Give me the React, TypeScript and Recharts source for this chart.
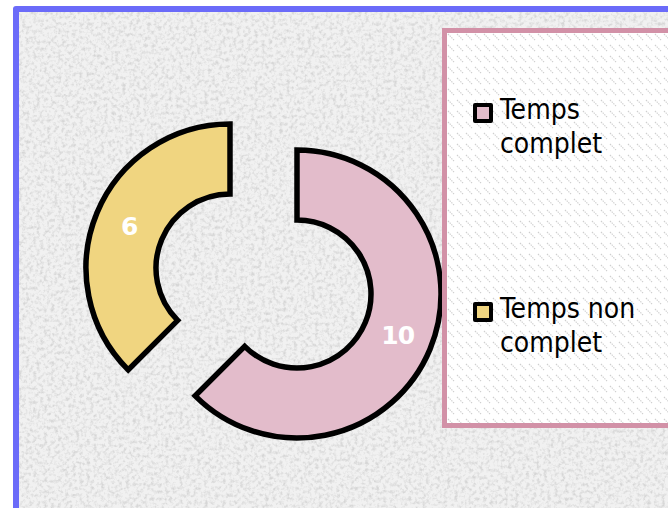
import { Cell, Legend, Pie, PieChart } from 'recharts';

// Répartition temps complet / temps non complet
const CATEGORIES = ['Temps complet', 'Temps non complet'];
const VALUES = [10, 6];
const COLORS = ['#e3bccb', '#f0d580'];

const W = 668;
const H = 508;
const RAD = Math.PI / 180;

const data = CATEGORIES.map((name, i) => ({ name, value: VALUES[i] }));

// each slice is pulled out of the ring toward its own middle angle
const CENTERS = [
  { cx: 297, cy: 294 },
  { cx: 230, cy: 268 },
];

const HATCH =
  "url(\"data:image/svg+xml,%3Csvg xmlns='http://www.w3.org/2000/svg' width='9' height='11'%3E%3Cpath d='M1 1 L7 7' stroke='%23cfcfcf' stroke-width='1.2' stroke-dasharray='1.4 1'/%3E%3C/svg%3E\")";

function sliceLabel(visible: number) {
  return (p: any) => {
    if (p.index !== visible) return null;
    const r = (p.innerRadius + p.outerRadius) / 2;
    const x = p.cx + r * Math.cos(-p.midAngle * RAD);
    const y = p.cy + r * Math.sin(-p.midAngle * RAD);
    return (
      <text
        x={x}
        y={y}
        fill="#ffffff"
        textAnchor="middle"
        dominantBaseline="central"
        style={{ fontFamily: 'DejaVu Sans, sans-serif', fontSize: 25, fontWeight: 700, letterSpacing: -1 }}
      >
        {p.value}
      </text>
    );
  };
}

function LegendBox() {
  return (
    <div
      style={{
        width: 260,
        height: 390,
        border: '5px solid #d291a7',
        backgroundColor: '#ffffff',
        backgroundImage: HATCH,
        position: 'relative',
        boxSizing: 'content-box',
      }}
    >
      {CATEGORIES.map((name, i) => (
        <div
          key={name}
          style={{
            position: 'absolute',
            left: 26,
            top: 60 + i * 199,
            display: 'flex',
            alignItems: 'flex-start',
          }}
        >
          <span
            style={{
              width: 12,
              height: 12,
              marginTop: 10,
              marginRight: 7,
              border: '4px solid #000',
              borderRadius: 2,
              background: COLORS[i],
              flex: 'none',
            }}
          />
          <span
            style={{
              width: 165,
              fontFamily: '"DejaVu Sans Condensed", "DejaVu Sans", sans-serif',
              fontSize: 28,
              lineHeight: '34px',
              color: '#000',
            }}
          >
            {name}
          </span>
        </div>
      ))}
    </div>
  );
}

export default function App() {
  return (
    <div style={{ position: 'absolute', left: 0, top: 0, width: W, height: H, overflow: 'hidden', background: '#fff' }}>
      <div
        style={{
          position: 'absolute',
          left: 13,
          top: 6,
          width: 720,
          height: 560,
          border: '6px solid #6b6bf9',
          borderRadius: 3,
          overflow: 'hidden',
          background: '#f0f0f0',
        }}
      >
        <svg width={720} height={560} style={{ position: 'absolute', left: 0, top: 0 }}>
          <filter id="grain">
            <feTurbulence type="fractalNoise" baseFrequency="0.28" numOctaves={3} seed={7} />
            <feColorMatrix
              type="matrix"
              values="0 0 0 0 0.5  0 0 0 0 0.5  0 0 0 0 0.5  0 0 0 -2.6 1.45"
            />
          </filter>
          <rect width={720} height={560} fill="#f1f1f1" />
          <rect width={720} height={560} filter="url(#grain)" opacity={0.5} />
        </svg>
      </div>
      <div style={{ position: 'absolute', left: 0, top: 0 }}>
        <PieChart width={W} height={H} margin={{ top: 0, right: 0, bottom: 0, left: 0 }}>
          {CENTERS.map((c, k) => (
            <Pie
              key={k}
              data={data}
              dataKey="value"
              nameKey="name"
              cx={c.cx}
              cy={c.cy}
              innerRadius={74}
              outerRadius={144}
              startAngle={90}
              endAngle={-270}
              label={sliceLabel(k)}
              labelLine={false}
              isAnimationActive={false}
            >
              {data.map((d, i) => (
                <Cell
                  key={d.name}
                  fill={i === k ? COLORS[i] : 'none'}
                  stroke={i === k ? '#000' : 'none'}
                  strokeWidth={5.5}
                  strokeLinejoin="miter"
                />
              ))}
            </Pie>
          ))}
          <Legend
            content={() => <LegendBox />}
            wrapperStyle={{ position: 'absolute', left: 442, top: 28, width: 270, height: 400 }}
          />
        </PieChart>
      </div>
    </div>
  );
}
